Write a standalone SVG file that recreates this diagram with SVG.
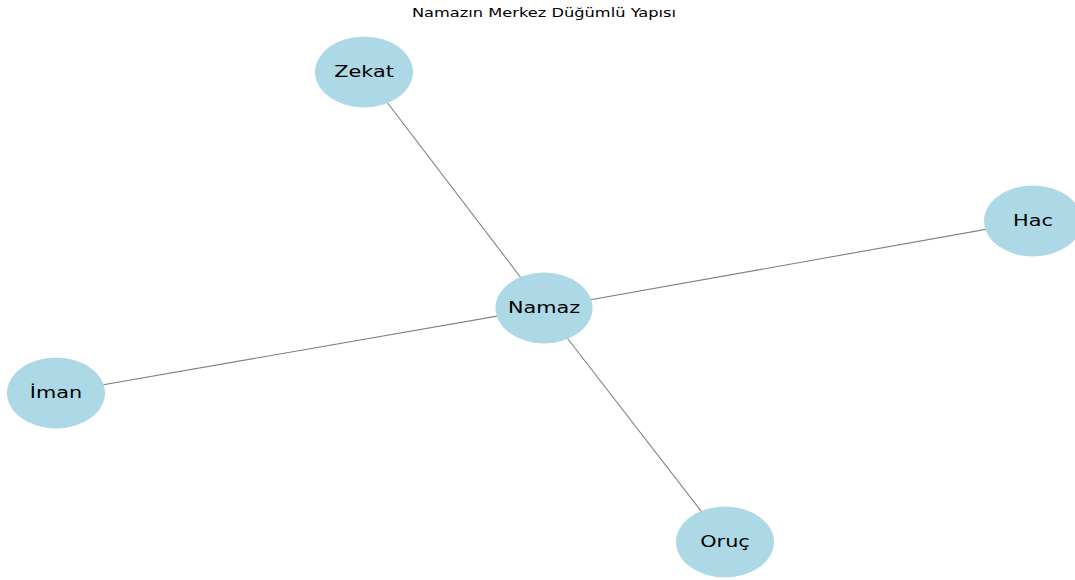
<svg xmlns="http://www.w3.org/2000/svg" width="1075" height="580" viewBox="0 0 1075 580">
<style>
.node{fill:#add8e6;}
.edge{stroke:#808080;stroke-width:1.1;fill:none;}
.lbl{font-family:"DejaVu Sans",sans-serif;font-size:16px;fill:#000;text-anchor:middle;dominant-baseline:central;}
.title{font-family:"DejaVu Sans",sans-serif;font-size:12.5px;fill:#000;text-anchor:middle;}
</style>
<rect width="1075" height="580" fill="#fff"/>
<text class="title" transform="translate(544,17) scale(1.3,1)">Namazın Merkez Düğümlü Yapısı</text>
<g id="edges">
<line class="edge" x1="544" y1="308" x2="364" y2="72"/>
<line class="edge" x1="544" y1="308" x2="1033" y2="221"/>
<line class="edge" x1="544" y1="308" x2="56" y2="393"/>
<line class="edge" x1="544" y1="308" x2="725" y2="542"/>
</g>
<g id="node-namaz"><ellipse class="node" cx="544" cy="308" rx="48.5" ry="35.5"/><text class="lbl" transform="translate(544,307) scale(1.3,1)">Namaz</text></g>
<g id="node-zekat"><ellipse class="node" cx="364" cy="72" rx="49" ry="35.5"/><text class="lbl" transform="translate(364,71) scale(1.3,1)">Zekat</text></g>
<g id="node-hac"><ellipse class="node" cx="1033" cy="221" rx="49" ry="35.5"/><text class="lbl" transform="translate(1033,220) scale(1.3,1)">Hac</text></g>
<g id="node-iman"><ellipse class="node" cx="56" cy="393" rx="49" ry="35.5"/><text class="lbl" transform="translate(56,392) scale(1.3,1)">İman</text></g>
<g id="node-oruc"><ellipse class="node" cx="725" cy="542" rx="49" ry="35.5"/><text class="lbl" transform="translate(725,541) scale(1.3,1)">Oruç</text></g>
</svg>
